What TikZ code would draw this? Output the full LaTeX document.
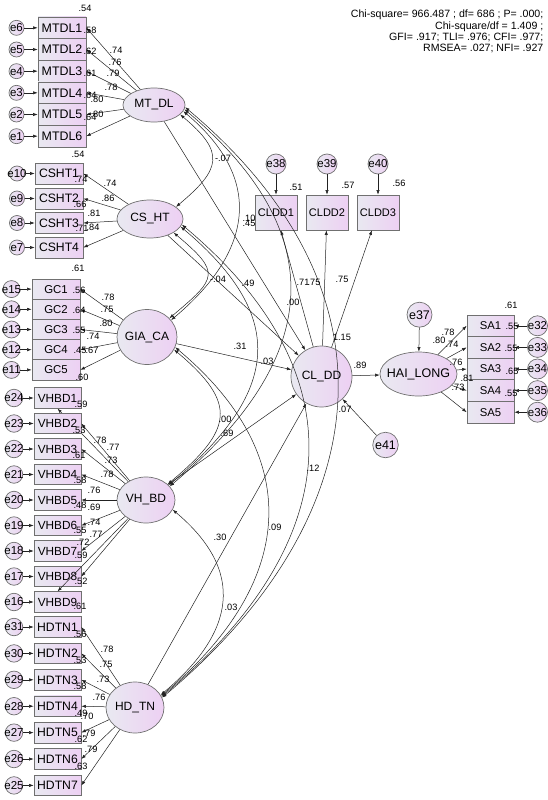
\documentclass[tikz,border=0pt]{standalone}
\usepackage{fontspec}
\setmainfont{Liberation Sans}
\usetikzlibrary{shapes.geometric,arrows.meta}
\definecolor{lavL}{HTML}{E9E9F1}
\definecolor{lavR}{HTML}{EDD0F3}
\definecolor{bord}{HTML}{707070}
\definecolor{ink}{HTML}{222222}
\newcounter{labc}
\newcommand\numlab[2]{\stepcounter{labc}\node[num] (n\thelabc) at (#1) {#2};}
\begin{document}
\begin{tikzpicture}[x=1pt,y=-1pt,
  box/.style={draw=bord,line width=0.7pt,left color=lavL,right color=lavR,inner sep=0pt},
  lat/.style={ellipse,draw=bord,line width=0.7pt,left color=lavL,right color=lavR,inner sep=0pt},
  errc/.style={circle,draw=bord,line width=0.7pt,left color=lavL,right color=lavR,inner sep=0pt},
  latt/.style={inner sep=0pt,font=\fontsize{12}{13}\selectfont},
  errt/.style={inner sep=0pt,font=\fontsize{11.5}{12}\selectfont},
  num/.style={inner sep=0pt,font=\fontsize{9.2}{10}\selectfont},
  arr/.style={draw=ink,line width=0.5pt,-{Latex[length=4.5pt,width=3.2pt]}},
  cov/.style={draw=ink,line width=0.5pt,{Latex[length=4.5pt,width=3.2pt]}-{Latex[length=4.5pt,width=3.2pt]}},
]
\useasboundingbox (0,0) rectangle (548,800);
% ---------- latent variables
\node[lat,minimum width=62,minimum height=34] (mt) at (154,105) {};
\node[latt] (mtT) at (mt) {MT\_DL};
\node[lat,minimum width=66,minimum height=38] (cs) at (150,219) {};
\node[latt] (csT) at (cs) {CS\_HT};
\node[lat,minimum width=60,minimum height=55] (gc) at (147,337) {};
\node[latt] (gcT) at (gc) {GIA\_CA};
\node[lat,minimum width=58,minimum height=46] (vh) at (146,500) {};
\node[latt] (vhT) at (vh) {VH\_BD};
\node[lat,minimum width=58,minimum height=51] (hd) at (135,707.5) {};
\node[latt] (hdT) at (hd) {HD\_TN};
\node[lat,minimum width=61,minimum height=61] (cl) at (321.5,376.5) {};
\node[latt] (clT) at (cl) {CL\_DD};
\node[lat,minimum width=77,minimum height=44] (hl) at (418.5,374) {};
\node[latt,font=\fontsize{12.5}{13}\selectfont] (hlT) at (hl) {HAI\_LONG};
% ---------- MTDL
\foreach \i in {1,...,6}{
  \pgfmathsetmacro\yy{17+21.667*(\i-0.5)}
  \pgfmathtruncatemacro\ee{7-\i}
  \node[box,minimum width=48,minimum height=21.67,font=\fontsize{12.4}{13}\selectfont] (m\i) at (62,\yy) {MTDL\i};
  \node[errc,minimum size=15] (em\i) at (16.5,\yy) {};
  \node[errt] (emt\i) at (em\i) {e\ee};
  \draw[arr] (em\i) -- (m\i);
  \draw[arr] (mt) -- (m\i.east);
}
% ---------- CSHT
\foreach \yy/\i in {173.5/1,198.5/2,223/3,247.5/4}{
  \pgfmathtruncatemacro\ee{11-\i}
  \node[box,minimum width=48,minimum height=21,font=\fontsize{12.2}{13}\selectfont] (k\i) at (59,\yy) {CSHT\i};
  \node[errc,minimum size=15] (ek\i) at (17,\yy) {};
  \node[errt] (ekt\i) at (ek\i) {e\ee};
  \draw[arr] (ek\i) -- (k\i);
  \draw[arr] (cs) -- (k\i.east);
}
% ---------- GC
\foreach \i in {1,...,5}{
  \pgfmathsetmacro\yy{279+20.2*(\i-0.5)}
  \pgfmathtruncatemacro\ee{16-\i}
  \node[box,minimum width=48,minimum height=20.2,font=\fontsize{11.4}{12}\selectfont] (g\i) at (56,\yy) {GC\i};
  \node[errc,minimum size=17] (eg\i) at (11.5,\yy) {};
  \node[errt] (egt\i) at (eg\i) {e\ee};
  \draw[arr] (eg\i) -- (g\i);
  \draw[arr] (gc) -- (g\i.east);
}
% ---------- VHBD
\foreach \i in {1,...,9}{
  \pgfmathsetmacro\yy{398+25.5*(\i-1)}
  \pgfmathtruncatemacro\ee{25-\i}
  \node[box,minimum width=47,minimum height=20.5,font=\fontsize{11.8}{12}\selectfont] (v\i) at (57.5,\yy) {VHBD\i};
  \node[errc,minimum size=17.5] (ev\i) at (14,\yy) {};
  \node[errt] (evt\i) at (ev\i) {e\ee};
  \draw[arr] (ev\i) -- (v\i);
  \ifnum\i=1 \draw[arr] (vh) -- (v\i.south);
  \else\ifnum\i=9 \draw[arr] (vh) -- (v\i.north);
  \else \draw[arr] (vh) -- (v\i.east);
  \fi\fi
}
% ---------- HDTN
\foreach \i in {1,...,7}{
  \pgfmathsetmacro\yy{627+26.4*(\i-1)}
  \pgfmathtruncatemacro\ee{32-\i}
  \node[box,minimum width=47,minimum height=20.5,font=\fontsize{12.2}{13}\selectfont] (h\i) at (57.5,\yy) {HDTN\i};
  \node[errc,minimum size=17.5] (eh\i) at (14,\yy) {};
  \node[errt] (eht\i) at (eh\i) {e\ee};
  \draw[arr] (eh\i) -- (h\i);
  \draw[arr] (hd) -- (h\i.east);
}
% ---------- SA
\foreach \i in {1,...,5}{
  \pgfmathsetmacro\yy{315+21.6*(\i-0.5)}
  \pgfmathtruncatemacro\ee{31+\i}
  \node[box,minimum width=47,minimum height=21.6,font=\fontsize{11.3}{12}\selectfont] (s\i) at (490.5,\yy) {SA\i};
  \node[errc,minimum size=20] (es\i) at (537.5,\yy) {};
  \node[errt] (est\i) at (es\i) {e\ee};
  \draw[arr] (es\i) -- (s\i);
  \draw[arr] (hl) -- (s\i.west);
}
% ---------- CLDD
\foreach \xx/\i in {276/1,327/2,378/3}{
  \pgfmathtruncatemacro\ee{37+\i}
  \node[box,minimum width=42,minimum height=35,font=\fontsize{11}{12}\selectfont] (c\i) at (\xx,212.5) {CLDD\i};
  \node[errc,minimum size=20] (ec\i) at (\xx,164) {};
  \node[errt] (ect\i) at (ec\i) {e\ee};
  \draw[arr] (ec\i) -- (c\i);
  \draw[arr] (cl) -- (c\i);
}
% ---------- disturbances
\node[errc,minimum size=25] (e37) at (419.5,314.7) {};
\node[errt,font=\fontsize{12.5}{13}\selectfont] (e37t) at (e37) {e37};
\node[errc,minimum size=25.5] (e41) at (385.5,445) {};
\node[errt,font=\fontsize{12.5}{13}\selectfont] (e41t) at (e41) {e41};
\draw[arr] (e37) -- (hl);
\draw[arr] (e41) -- (cl);
% ---------- structural paths
\foreach \s in {mt,cs,gc,vh,hd} \draw[arr] (\s) -- (cl);
\draw[arr] (cl) -- (hl);
% ---------- covariances
\draw[cov] (mt.-20) to[out=-40,in=40,looseness=1.63] (cs.25);
\draw[cov] (mt.-12) to[out=-40,in=40,looseness=1.30] (gc.35);
\draw[cov] (mt.-8) to[out=-40,in=40,looseness=1.33] (vh.30);
\draw[cov] (mt.-4) to[out=-40,in=40,looseness=1.23] (hd.20);
\draw[cov] (cs.-30) to[out=-40,in=40,looseness=1.86] (gc.40);
\draw[cov] (cs.-14) to[out=-40,in=40,looseness=1.41] (vh.33);
\draw[cov] (cs.-10) to[out=-40,in=40,looseness=1.28] (hd.22);
\draw[cov] (gc.-25) to[out=-40,in=40,looseness=1.60] (vh.36);
\draw[cov] (gc.-20) to[out=-40,in=40,looseness=1.27] (hd.24);
\draw[cov] (vh.-20) to[out=-40,in=40,looseness=1.33] (hd.26);
% ---------- labels: MTDL
\numlab{116,50}{.74}\numlab{115,62}{.76}\numlab{113,73}{.79}\numlab{111,87}{.78}\numlab{97,99}{.80}\numlab{97,114}{.80}
\numlab{85,8}{.54}\numlab{90,30}{.58}\numlab{90,51}{.62}\numlab{90,73}{.61}\numlab{90,95}{.64}\numlab{90,117}{.64}
% CSHT
\numlab{110,183}{.74}\numlab{108,198}{.86}\numlab{94,213}{.81}\numlab{93,227}{.84}
\numlab{78,154}{.54}\numlab{81,179}{.74}\numlab{80,204}{.66}\numlab{82,228}{.71}
% GC
\numlab{108,297}{.78}\numlab{107,309}{.75}\numlab{106,323}{.80}\numlab{93,336}{.74}\numlab{92,350}{.67}
\numlab{78,268}{.61}\numlab{79,290}{.56}\numlab{79,310}{.64}\numlab{79,330}{.55}\numlab{80,350}{.45}\numlab{82,377}{.60}
% VHBD
\numlab{100,440}{.78}\numlab{113,447}{.77}\numlab{111,460}{.73}\numlab{107,474}{.78}\numlab{94,490}{.76}\numlab{94,507}{.69}\numlab{94,522}{.74}\numlab{96,534}{.77}\numlab{83,542}{.72}
\numlab{81,404}{.59}\numlab{79,430}{.53}\numlab{79,455}{.61}\numlab{80,480}{.58}\numlab{80,505}{.48}\numlab{80,530}{.55}\numlab{81,555}{.59}\numlab{81,581}{.52}\numlab{80,606}{.61}
% HDTN
\numlab{107,649}{.78}\numlab{106,664}{.75}\numlab{103,679}{.73}\numlab{99,697}{.76}\numlab{87,716}{.70}\numlab{89,733}{.79}\numlab{91,749}{.79}
\numlab{80,634}{.56}\numlab{80,660}{.53}\numlab{80,686}{.58}\numlab{81,713}{.49}\numlab{81,739}{.62}\numlab{81,766}{.63}
% SA
\numlab{439,340}{.80}\numlab{448,332}{.78}\numlab{452,344}{.74}\numlab{456,362}{.76}\numlab{467,378}{.81}\numlab{458,387}{.73}
\numlab{511,305}{.61}\numlab{512,326}{.55}\numlab{511,348}{.55}\numlab{512,371}{.65}\numlab{511,393}{.55}
% CLDD
\numlab{296,187}{.51}\numlab{348,185}{.57}\numlab{399,183}{.56}\numlab{303,282}{.71}\numlab{314,282}{.75}\numlab{342,279}{.75}
% structural and covariances
\numlab{223,158}{-.07}\numlab{249,218}{.10}\numlab{249,223}{.45}\numlab{218,279}{-.04}\numlab{248,283}{.49}
\numlab{293,302}{.00}\numlab{240,346}{.31}\numlab{267,361}{.03}\numlab{342,337}{1.15}\numlab{360,365}{.89}
\numlab{345,409}{.07}\numlab{225,419}{.00}\numlab{227,433}{.69}\numlab{313,468}{.12}\numlab{275,527}{.09}
\numlab{220,537}{.30}\numlab{231,607}{.03}
% ---------- fit indices
\node[anchor=north east,align=right,inner sep=0pt,font=\fontsize{10.6}{11.3}\selectfont] (fit) at (543.5,10)
  {Chi-square= 966.487 ; df= 686 ; P= .000;\\Chi-square/df = 1.409 ;\\GFI= .917; TLI= .976; CFI= .977;\\RMSEA= .027; NFI= .927};
\end{tikzpicture}
\end{document}
